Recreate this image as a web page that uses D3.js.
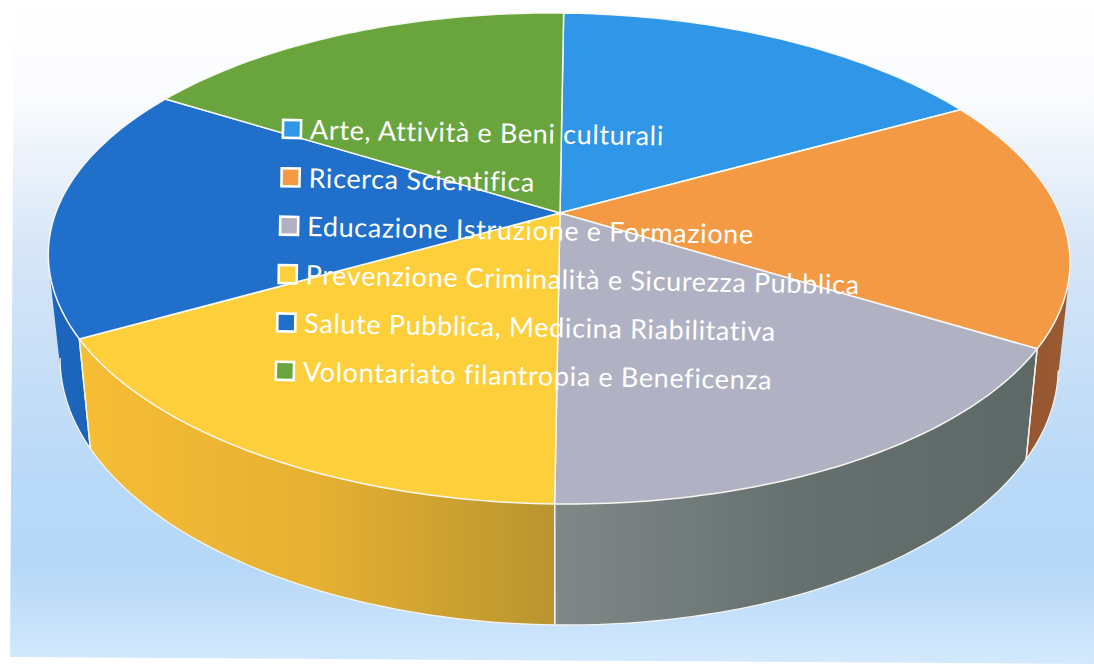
<!DOCTYPE html>
<html>
<head>
<meta charset="utf-8">
<script src="https://cdn.jsdelivr.net/npm/d3@7"></script>
<style>
html,body{margin:0;padding:0;background:#fff}
svg{display:block}
</style>
</head>
<body>
<svg id="chart" width="1094" height="666"></svg>
<script>
// Sectors of the pie, clockwise from twelve o'clock
const categories = [
  "Arte, Attività e Beni culturali",
  "Ricerca Scientifica",
  "Educazione Istruzione e Formazione",
  "Prevenzione Criminalità e Sicurezza Pubblica",
  "Salute Pubblica, Medicina Riabilitativa",
  "Volontariato filantropia e Beneficenza"
];
const shares = [16.7, 16.6, 16.7, 16.6, 16.8, 16.6];
const topColors = ["#2f96e8", "#f49a45", "#b0b1c2", "#fdcf3a", "#1f6fcb", "#69a53c"];
// Wall shading per sector, listed left to right across the sector
const wallShades = [
  ["#1c62b4"],
  ["#8f4f2a", "#9a5a32"],
  ["#7f8887", "#66716f", "#5d6967"],
  ["#f6bd35", "#e6b032", "#b9952f"],
  ["#1d66bd", "#1a60b4"],
  ["#4f8a2e"]
];

const svg = d3.select("#chart");
const defs = svg.append("defs");

// Page wash: nearly white at the top, sky blue lower down
const bg = defs.append("linearGradient").attr("id", "wash")
  .attr("x1", 0).attr("x2", 0).attr("y1", 0).attr("y2", 1);
[[0, "#ffffff"], [0.15, "#fafbfe"], [0.38, "#d6e5f7"], [0.72, "#b9d9f8"],
 [0.85, "#b5d7f8"], [1, "#d4e9fd"]].forEach(([o, c]) =>
  bg.append("stop").attr("offset", o).attr("stop-color", c));
svg.append("path").attr("d", "M14 0L1094 0L1094 664L10 657Z").attr("fill", "url(#wash)");

// Tilted disc: perspective foreshortening plus a small shear on both axes
const apex = [560, 213], semiX = 502, semiY = 237, persp = 0.1853, shearX = 0.0183, shearY = 0.012;
// The lower rim of the disc is a little narrower and taller than the upper rim
const baseX = 0.977, baseY = 1.0688, baseDrop = 101;

function project(angle) {
  const u = Math.sin(angle), v = -Math.cos(angle);
  const w = 1 - persp * v;
  const px = semiX * u / w, py = semiY * v / w;
  return [px - py * shearX, py + px * shearY];
}
function onTop(angle) {
  const [px, py] = project(angle);
  return [apex[0] + px, apex[1] + py];
}
function onBase(angle) {
  const [px, py] = project(angle);
  return [apex[0] + px * baseX, apex[1] + py * baseY + baseDrop];
}

const slices = d3.pie().sort(null).value(d => d)(shares);
const outline = d3.line();
const arcAngles = s => d3.range(0, 61).map(i => s.startAngle + (s.endAngle - s.startAngle) * i / 60);

// Outer walls: one quad per arc step, all wound the same way so the fill covers the silhouette
slices.forEach((s, i) => {
  const id = "wall" + i;
  const angles = arcAngles(s);
  const xs = angles.map(a => onTop(a)[0]);
  const g = defs.append("linearGradient").attr("id", id).attr("gradientUnits", "userSpaceOnUse")
    .attr("x1", d3.min(xs)).attr("y1", 0).attr("x2", d3.max(xs)).attr("y2", 0);
  const shades = wallShades[i];
  const offset = d3.scaleLinear().domain([0, Math.max(1, shades.length - 1)]).range([0, 1]);
  shades.forEach((c, k) => g.append("stop").attr("offset", offset(k)).attr("stop-color", c));
  const quads = d3.pairs(angles).map(([a, b]) => {
    const q = [onTop(a), onTop(b), onBase(b), onBase(a)];
    return outline(d3.polygonArea(q) < 0 ? q.reverse() : q) + "Z";
  });
  svg.append("path").attr("d", quads.join("")).attr("fill", `url(#${id})`);
});

// Pale edges along the visible lower rim and the wall seams
const frontRim = s => arcAngles(s).filter(a => Math.cos(a) < -0.18);
slices.forEach(s => {
  const rim = frontRim(s);
  if (rim.length > 1) {
    svg.append("path").attr("d", outline(rim.map(onBase))).attr("fill", "none")
      .attr("stroke", "#f4f4f0").attr("stroke-width", 1.3);
    [s.startAngle, s.endAngle].filter(a => Math.cos(a) < -0.18).forEach(a => {
      svg.append("path").attr("d", outline([onTop(a), onBase(a)])).attr("fill", "none")
        .attr("stroke", "#f4f4f0").attr("stroke-width", 1.3);
    });
  }
});

// Top face
slices.forEach((s, i) => {
  const pts = [apex].concat(arcAngles(s).map(onTop));
  svg.append("path").attr("d", outline(pts) + "Z").attr("fill", topColors[i])
    .attr("stroke", "#f7f7f2").attr("stroke-width", 1.5).attr("stroke-linejoin", "round");
});

// Key, laid out on the pie and turned with it
const rowY = d3.scalePoint().domain(categories).range([0, 242]);
const legend = svg.append("g").attr("transform", "translate(292,129) rotate(1.0)");
const rows = legend.selectAll("g").data(categories).join("g")
  .attr("transform", c => `translate(${-0.012 * rowY(c)},${rowY(c)})`);
rows.append("rect").attr("x", -9).attr("y", -9).attr("width", 18).attr("height", 18)
  .attr("fill", (c, i) => topColors[i]).attr("stroke", "#fff").attr("stroke-width", 2.6);
rows.append("text").attr("x", 18).attr("y", 10)
  .attr("font-family", "Lato, 'Open Sans', sans-serif").attr("font-size", 27)
  .attr("letter-spacing", 0.65).attr("fill", "#fff").text(c => c);
</script>
</body>
</html>
